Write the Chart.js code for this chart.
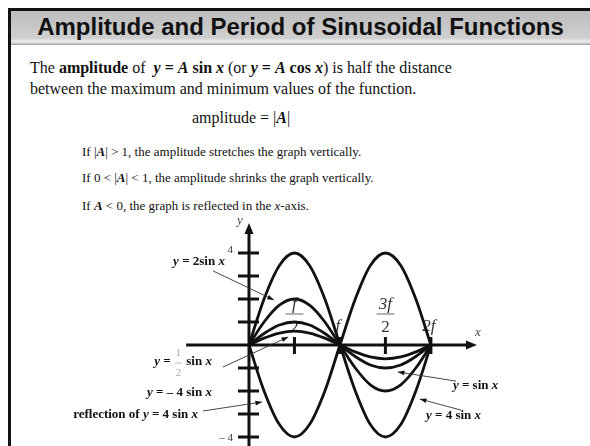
<!DOCTYPE html>
<html>
<head>
<meta charset="utf-8">
<script src="https://cdn.jsdelivr.net/npm/chart.js@4.4.1/dist/chart.umd.min.js"></script>
<style>
  body { margin: 0; background: #fff; }
  #slide { position: relative; width: 590px; height: 446px; overflow: hidden; background: #fff; font-family: "Liberation Serif", "Times New Roman", serif; color: #111; }
  .line { position: absolute; white-space: nowrap; line-height: 1; }
  #topRule { position: absolute; left: 8px; top: 8px; width: 582px; height: 3px; background: #111; }
  #leftRule { position: absolute; left: 8px; top: 8px; width: 3px; height: 438px; background: #111; }
  #titleBar { position: absolute; left: 11px; top: 11px; width: 579px; height: 34px;
    background: linear-gradient(#bdbdbd 0%, #cfcfcf 80%, #ececec 88%, #d8d8d8 94%, #9a9a9a 100%); }
  #title { position: absolute; left: 11px; top: 11px; width: 579px; height: 34px; line-height: 32px; text-align: center;
    font-family: "Liberation Sans", Arial, sans-serif; font-weight: bold; font-size: 24px; color: #111; }
  .p16 { font-size: 16px; }
  .p12 { font-size: 13px; }
  #chartBox { position: absolute; left: 0; top: 200px; width: 590px; height: 246px; }
</style>
</head>
<body>
<div id="slide">
  <div id="titleBar"></div>
  <div id="topRule"></div>
  <div id="leftRule"></div>
  <div id="title">Amplitude and Period of Sinusoidal Functions</div>

  <div class="line p16" style="left:30px; top:60px;">The <b>amplitude</b> of&nbsp; <b><i>y</i> = <i>A</i> sin <i>x</i></b> (or <b><i>y</i> = <i>A</i> cos <i>x</i></b>) is half the distance</div>
  <div class="line p16" style="left:30px; top:81px;">between the maximum and minimum values of the function.</div>
  <div class="line p16" style="left:192px; top:110px;">amplitude = |<b><i>A</i></b>|</div>
  <div class="line p12" style="left:82px; top:145px;">If |<b><i>A</i></b>| &gt; 1, the amplitude stretches the graph vertically.</div>
  <div class="line p12" style="left:82px; top:171px;">If 0 &lt; |<b><i>A</i></b>| &lt; 1, the amplitude shrinks the graph vertically.</div>
  <div class="line p12" style="left:82px; top:199px;">If <b><i>A</i></b> &lt; 0, the graph is reflected in the <i>x</i>-axis.</div>

  <div id="chartBox"><canvas id="chart" width="590" height="246"></canvas></div>
</div>

<script>
// x positions in radians (steps of pi/6 from 0 to 2pi)
const xValues = [0, 0.52, 1.05, 1.57, 2.09, 2.62, 3.14, 3.67, 4.19, 4.71, 5.24, 5.76, 6.28];

// curve values
const fourSinX    = [0, 2, 3.46, 4, 3.46, 2, 0, -2, -3.46, -4, -3.46, -2, 0];
const negFourSinX = [0, -2, -3.46, -4, -3.46, -2, 0, 2, 3.46, 4, 3.46, 2, 0];
const twoSinX     = [0, 1, 1.73, 2, 1.73, 1, 0, -1, -1.73, -2, -1.73, -1, 0];
const sinX        = [0, 0.5, 0.87, 1, 0.87, 0.5, 0, -0.5, -0.87, -1, -0.87, -0.5, 0];
const halfSinX    = [0, 0.3, 0.52, 0.6, 0.52, 0.3, 0, -0.3, -0.52, -0.6, -0.52, -0.3, 0];

// axis ticks and their labels
const yTicks = [-4, -3, -2, -1, 1, 2, 3, 4];
const yTickLabelValues = [4, -4];
const yTickLabels = ['4', '\u2013 4'];
const xTicks = [1.57, 3.14, 4.71, 6.28];
const xTickNumerators = ['f', 'f', '3f', '2f'];
const xTickDenominators = ['2', '', '2', ''];

// callout texts: [text, font] pieces
const B = 'bold 13px "Liberation Serif"', BI = 'bold italic 13px "Liberation Serif"';
const callouts = [
  { parts: [['y', BI], [' = 2sin ', B], ['x', BI]], at: [-0.83, 3.61], align: 'right',
    arrow: [[-1.24, 3.22], [0.86, 1.96]] },
  { parts: [['y', BI], [' = ', B], ['HALF', B], [' sin ', B], ['x', BI]], at: [-1.28, -0.74], align: 'right',
    arrow: [[-0.9, -0.96], [1.35, 0.35]] },
  { parts: [['y', BI], [' = \u2013 4 sin ', B], ['x', BI]], at: [-1.28, -2.09], align: 'right', arrow: null },
  { parts: [['reflection of ', B], ['y', BI], [' = 4 sin ', B], ['x', BI]], at: [-1.76, -3.04], align: 'right',
    arrow: [[-1.59, -2.87], [0.45, -2.48]] },
  { parts: [['y', BI], [' = sin ', B], ['x', BI]], at: [7.04, -1.78], align: 'left',
    arrow: [[7.15, -1.57], [5.14, -1.17]] },
  { parts: [['y', BI], [' = 4 sin ', B], ['x', BI]], at: [6.11, -3.09], align: 'left',
    arrow: [[7.32, -2.83], [5.9, -2.35]] }
];

function toPoints(values) {
  return values.map((v, i) => ({ x: xValues[i], y: v }));
}

function drawArrow(ctx, x1, y1, x2, y2) {
  ctx.save();
  ctx.strokeStyle = '#333';
  ctx.fillStyle = '#111';
  ctx.lineWidth = 0.9;
  ctx.beginPath();
  ctx.moveTo(x1, y1);
  ctx.lineTo(x2, y2);
  ctx.stroke();
  const a = Math.atan2(y2 - y1, x2 - x1);
  ctx.beginPath();
  ctx.moveTo(x2, y2);
  ctx.lineTo(x2 - 7 * Math.cos(a - 0.35), y2 - 7 * Math.sin(a - 0.35));
  ctx.lineTo(x2 - 7 * Math.cos(a + 0.35), y2 - 7 * Math.sin(a + 0.35));
  ctx.closePath();
  ctx.fill();
  ctx.restore();
}

function partWidth(ctx, p) {
  if (p[0] === 'HALF') return 9;
  ctx.font = p[1];
  return ctx.measureText(p[0]).width;
}

const slideDecor = {
  id: 'slideDecor',
  beforeDatasetsDraw(chart) {
    const ctx = chart.ctx;
    const xs = chart.scales.x, ys = chart.scales.y;
    const px = v => xs.getPixelForValue(v), py = v => ys.getPixelForValue(v);
    const x0 = px(0), y0 = py(0);
    ctx.save();
    ctx.strokeStyle = '#111';
    ctx.fillStyle = '#111';
    ctx.lineWidth = 3;

    // x axis with arrow
    const xEnd = px(7.87);
    ctx.beginPath();
    ctx.moveTo(px(-2.17), y0);
    ctx.lineTo(xEnd - 8, y0);
    ctx.stroke();
    ctx.beginPath();
    ctx.moveTo(xEnd, y0);
    ctx.lineTo(xEnd - 11, y0 - 4.5);
    ctx.lineTo(xEnd - 11, y0 + 4.5);
    ctx.closePath();
    ctx.fill();

    // y axis with arrow
    const yTop = py(5.3);
    ctx.beginPath();
    ctx.moveTo(x0, py(-4.5));
    ctx.lineTo(x0, yTop + 8);
    ctx.stroke();
    ctx.beginPath();
    ctx.moveTo(x0, yTop);
    ctx.lineTo(x0 - 4.5, yTop + 11);
    ctx.lineTo(x0 + 4.5, yTop + 11);
    ctx.closePath();
    ctx.fill();

    // y ticks
    yTicks.forEach(t => {
      ctx.beginPath();
      ctx.moveTo(x0 - 11, py(t));
      ctx.lineTo(x0 + 10, py(t));
      ctx.stroke();
    });
    // x ticks
    xTicks.forEach(t => {
      ctx.beginPath();
      ctx.moveTo(px(t), y0 - 8);
      ctx.lineTo(px(t), y0 + 9);
      ctx.stroke();
    });

    // tick labels
    ctx.fillStyle = '#333';
    ctx.textBaseline = 'middle';
    ctx.font = '11px "Liberation Serif"';
    ctx.textAlign = 'right';
    yTickLabelValues.forEach((v, i) => {
      ctx.fillText(yTickLabels[i], x0 - 16, py(v) + (v > 0 ? -3 : 1));
    });

    ctx.textAlign = 'center';
    xTicks.forEach((t, i) => {
      const cx = px(t);
      ctx.font = 'italic 17px "Liberation Serif"';
      if (xTickDenominators[i]) {
        ctx.fillText(xTickNumerators[i], cx, y0 - 40);
        ctx.strokeStyle = '#888';
        ctx.lineWidth = 1.3;
        ctx.beginPath();
        ctx.moveTo(cx - 9, y0 - 31);
        ctx.lineTo(cx + 9, y0 - 31);
        ctx.stroke();
        ctx.font = '17px "Liberation Serif"';
        ctx.fillText(xTickDenominators[i], cx, y0 - 17);
      } else {
        ctx.fillText(xTickNumerators[i], cx - 2, y0 - 18);
      }
    });

    // axis names
    ctx.font = 'italic 13px "Liberation Serif"';
    ctx.fillStyle = '#444';
    ctx.fillText('x', px(7.9), y0 - 12);
    ctx.fillText('y', x0 - 9, yTop - 3);
    ctx.restore();
  },
  afterDatasetsDraw(chart) {
    const ctx = chart.ctx;
    const xs = chart.scales.x, ys = chart.scales.y;
    const px = v => xs.getPixelForValue(v), py = v => ys.getPixelForValue(v);
    ctx.save();
    ctx.textBaseline = 'middle';
    ctx.textAlign = 'left';
    callouts.forEach(c => {
      if (c.arrow) {
        drawArrow(ctx, px(c.arrow[0][0]), py(c.arrow[0][1]), px(c.arrow[1][0]), py(c.arrow[1][1]));
      }
      const total = c.parts.reduce((s, p) => s + partWidth(ctx, p), 0);
      let x = c.align === 'right' ? px(c.at[0]) - total : px(c.at[0]);
      const y = py(c.at[1]);
      c.parts.forEach(p => {
        const w = partWidth(ctx, p);
        if (p[0] === 'HALF') {
          ctx.fillStyle = '#aaa';
          ctx.font = '11px "Liberation Serif"';
          ctx.textAlign = 'center';
          ctx.fillText('1', x + w / 2, y - 9);
          ctx.fillText('2', x + w / 2, y + 11);
          ctx.strokeStyle = '#bbb';
          ctx.lineWidth = 1;
          ctx.beginPath();
          ctx.moveTo(x + 1, y + 1);
          ctx.lineTo(x + w - 1, y + 1);
          ctx.stroke();
          ctx.textAlign = 'left';
        } else {
          ctx.fillStyle = '#111';
          ctx.font = p[1];
          ctx.fillText(p[0], x, y);
        }
        x += w;
      });
    });
    ctx.restore();
  }
};

const lineStyle = { borderColor: '#111', borderWidth: 2.8, pointRadius: 0, fill: false, cubicInterpolationMode: 'monotone' };

new Chart(document.getElementById('chart').getContext('2d'), {
  type: 'line',
  data: {
    datasets: [
      { label: 'y = 4 sin x', data: toPoints(fourSinX), ...lineStyle },
      { label: 'y = -4 sin x', data: toPoints(negFourSinX), ...lineStyle },
      { label: 'y = 2 sin x', data: toPoints(twoSinX), ...lineStyle },
      { label: 'y = sin x', data: toPoints(sinX), ...lineStyle },
      { label: 'y = 1/2 sin x', data: toPoints(halfSinX), ...lineStyle }
    ]
  },
  options: {
    responsive: false,
    animation: false,
    layout: { padding: 0 },
    scales: {
      x: { type: 'linear', display: false, min: -8.596, max: 11.773 },
      y: { type: 'linear', display: false, min: -4.391, max: 6.304 }
    },
    plugins: {
      legend: { display: false },
      tooltip: { enabled: false }
    }
  },
  plugins: [slideDecor]
});
</script>
</body>
</html>
